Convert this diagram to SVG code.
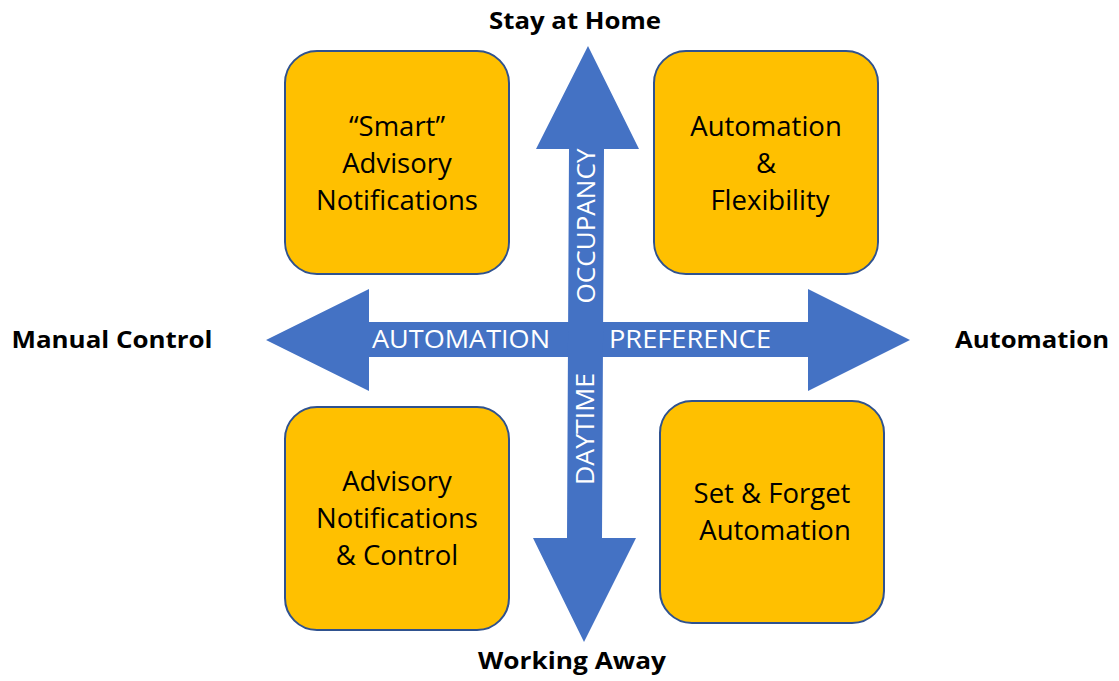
<svg xmlns="http://www.w3.org/2000/svg" width="1119" height="681" viewBox="0 0 1119 681">
  <style>
    .box { fill: #FFC000; stroke: #2F528F; stroke-width: 2; }
    .boxtext { font-family: "Open Sans", "Noto Sans", sans-serif; font-size: 27.5px; fill: #000; text-anchor: middle; }
    .axis { fill: #4472C4; }
    .axistext { font-family: "Open Sans", "Noto Sans", sans-serif; font-size: 25px; fill: #fff; text-anchor: middle; }
    .pole { font-family: "Open Sans", "Noto Sans", sans-serif; font-size: 24px; font-weight: bold; fill: #000; text-anchor: middle; }
  </style>
  <rect width="1119" height="681" fill="#fff"/>

  <!-- axes -->
  <g id="connectors">
    <polygon class="axis" points="266,340 369,289 369,322 808,322 808,289 910,340 808,391 808,357 369,357 369,391"/>
    <polygon class="axis" points="588,46 639,149 604,149 602,538 636,538 584,642 533,538 567,538 569,149 536,149"/>
    <text class="axistext" x="461" y="348" textLength="178" lengthAdjust="spacingAndGlyphs">AUTOMATION</text>
    <text class="axistext" x="690" y="348" textLength="162" lengthAdjust="spacingAndGlyphs">PREFERENCE</text>
    <text class="axistext" transform="translate(586,226) rotate(-90)" x="0" y="9" textLength="155" lengthAdjust="spacingAndGlyphs">OCCUPANCY</text>
    <text class="axistext" transform="translate(585,429) rotate(-90)" x="0" y="9" textLength="112" lengthAdjust="spacingAndGlyphs">DAYTIME</text>
  </g>

  <!-- axis end labels -->
  <g id="label-top"><text class="pole" x="575" y="29" textLength="172" lengthAdjust="spacingAndGlyphs">Stay at Home</text></g>
  <g id="label-bottom"><text class="pole" x="572" y="669" textLength="188" lengthAdjust="spacingAndGlyphs">Working Away</text></g>
  <g id="label-left"><text class="pole" x="112" y="348" textLength="201" lengthAdjust="spacingAndGlyphs">Manual Control</text></g>
  <g id="label-right"><text class="pole" x="1032" y="348" textLength="154" lengthAdjust="spacingAndGlyphs">Automation</text></g>

  <!-- quadrants -->
  <g id="node-smart-advisory">
    <rect class="box" x="285" y="51" width="224" height="223" rx="32"/>
    <text class="boxtext" x="397" y="136">“Smart”</text>
    <text class="boxtext" x="397" y="173">Advisory</text>
    <text class="boxtext" x="397" y="210">Notifications</text>
  </g>
  <g id="node-automation-flexibility">
    <rect class="box" x="654" y="51" width="224" height="223" rx="32"/>
    <text class="boxtext" x="766" y="136">Automation</text>
    <text class="boxtext" x="766" y="173">&amp;</text>
    <text class="boxtext" x="770" y="210">Flexibility</text>
  </g>
  <g id="node-advisory-control">
    <rect class="box" x="285" y="407" width="224" height="223" rx="32"/>
    <text class="boxtext" x="397" y="491">Advisory</text>
    <text class="boxtext" x="397" y="528">Notifications</text>
    <text class="boxtext" x="397" y="565">&amp; Control</text>
  </g>
  <g id="node-set-forget">
    <rect class="box" x="660" y="401" width="224" height="222" rx="32"/>
    <text class="boxtext" x="772" y="503">Set &amp; Forget</text>
    <text class="boxtext" x="775" y="540">Automation</text>
  </g>
</svg>
